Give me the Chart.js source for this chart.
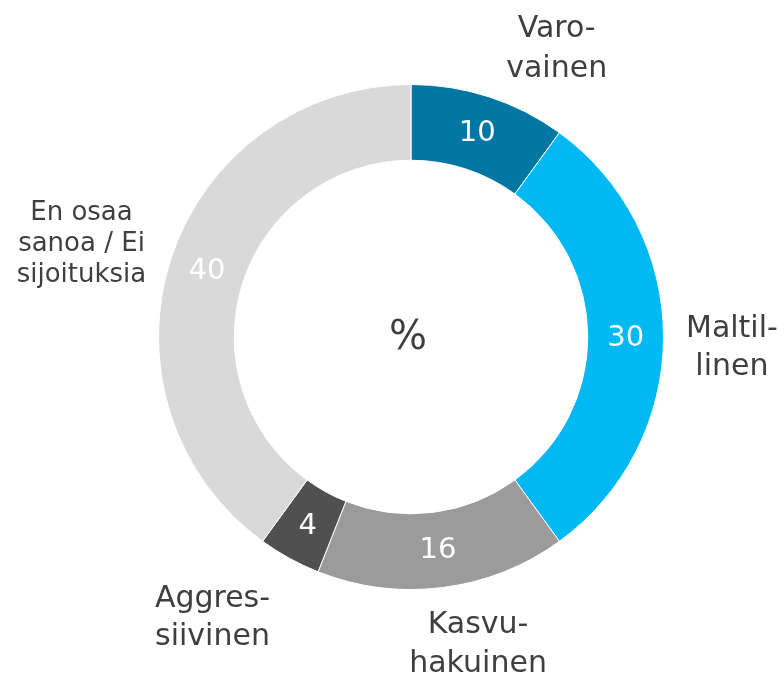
<!DOCTYPE html>
<html>
<head>
<meta charset="utf-8">
<script src="https://cdn.jsdelivr.net/npm/chart.js@4/dist/chart.umd.min.js"></script>
<style>
  html, body { margin: 0; padding: 0; background: #fff; }
  #wrap { width: 784px; height: 673px; }
</style>
</head>
<body>
<div id="wrap"><canvas id="c" width="784" height="673"></canvas></div>
<script>
var categories = [
  ['Varo-', 'vainen'],
  ['Maltil-', 'linen'],
  ['Kasvu-', 'hakuinen'],
  ['Aggres-', 'siivinen'],
  ['En osaa', 'sanoa / Ei', 'sijoituksia']
];
var shares = [10, 30, 16, 4, 40];
var sliceColors = ['#0077A3', '#00B9F2', '#9B9B9B', '#505050', '#D9D9D9'];
var centerText = '%';

// outer label placement: gap beyond the ring, angular shift (deg), font size, line height
var labelGap = [63, 69, 70, 98, 88];
var labelTurn = [9.5, 3.4, -4.8, 5.7, -3.4];
var labelSize = [30, 30, 30, 30, 26];
var labelLead = [40, 38, 39, 38, 31];

var FONT = '"DejaVu Sans", Verdana, sans-serif';

var ringLabels = {
  id: 'ringLabels',
  afterDatasetsDraw: function (chart) {
    var ctx = chart.ctx;
    var meta = chart.getDatasetMeta(0);
    ctx.save();
    ctx.textAlign = 'center';
    meta.data.forEach(function (arc, i) {
      var p = arc.getProps(['x', 'y', 'startAngle', 'endAngle', 'innerRadius', 'outerRadius'], true);
      var mid = (p.startAngle + p.endAngle) / 2;
      var r = (p.innerRadius + p.outerRadius) / 2;
      ctx.textBaseline = 'middle';
      ctx.fillStyle = '#ffffff';
      ctx.font = '29px ' + FONT;
      ctx.fillText(String(shares[i]), p.x + Math.cos(mid) * r, p.y + Math.sin(mid) * r + 1);

      var a = mid + labelTurn[i] * Math.PI / 180;
      var lr = p.outerRadius + labelGap[i];
      var lx = p.x + Math.cos(a) * lr;
      var ly = p.y + Math.sin(a) * lr;
      var lines = categories[i];
      var lh = labelLead[i];
      ctx.textBaseline = 'alphabetic';
      ctx.fillStyle = '#3f3f3f';
      ctx.font = labelSize[i] + 'px ' + FONT;
      lines.forEach(function (t, k) {
        ctx.fillText(t, lx, ly + (k - (lines.length - 1) / 2) * lh);
      });
    });
    var c = meta.data[0];
    ctx.textBaseline = 'middle';
    ctx.fillStyle = '#3f3f3f';
    ctx.font = '40px ' + FONT;
    ctx.fillText(centerText, c.x - 3, c.y + 2);
    ctx.restore();
  }
};

new Chart(document.getElementById('c'), {
  type: 'doughnut',
  data: {
    labels: categories.map(function (l) { return l.join(' '); }),
    datasets: [{
      data: shares,
      backgroundColor: sliceColors,
      borderColor: '#ffffff',
      borderWidth: 1
    }]
  },
  options: {
    responsive: false,
    animation: false,
    cutout: '70%',
    layout: { padding: { left: 158, right: 120, top: 84, bottom: 83 } },
    plugins: { legend: { display: false }, tooltip: { enabled: false } }
  },
  plugins: [ringLabels]
});
</script>
</body>
</html>
